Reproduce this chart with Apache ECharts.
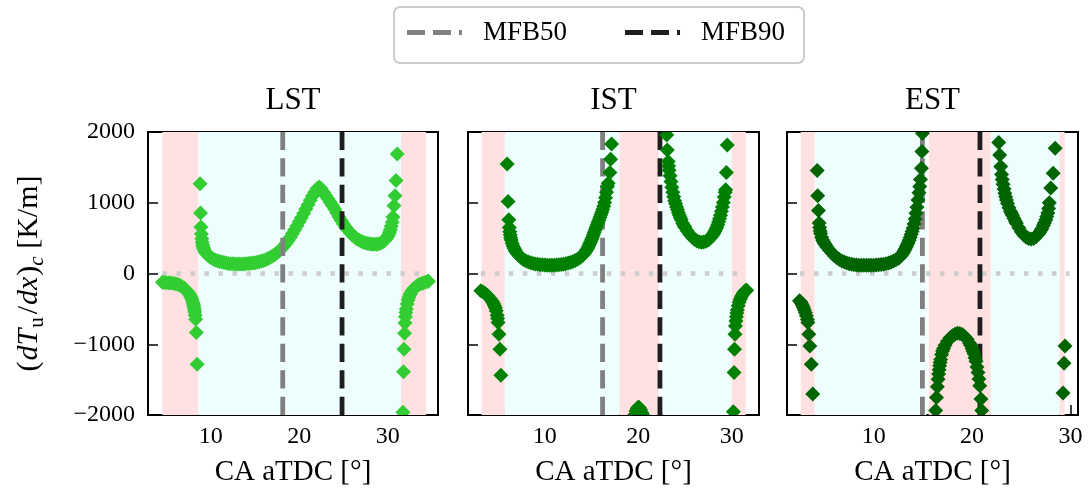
<!DOCTYPE html>
<html>
<head>
<meta charset="utf-8">
<script src="https://cdn.jsdelivr.net/npm/echarts@6/dist/echarts.min.js"></script>
<style>
  html, body { margin: 0; padding: 0; background: #ffffff; }
  #chart { width: 1090px; height: 493px; }
</style>
</head>
<body>
<div id="chart"></div>
<script>
// Unburned-gas temperature gradient at the cell, per crank angle [deg aTDC]

// ---- LST ----
const lstNegA = [[4.55,-125],[4.75,-127],[5.0,-129],[5.25,-131],[5.5,-134],[5.75,-138],[6.0,-145],[6.25,-153],
  [6.5,-165],[6.75,-182],[7.0,-205],[7.25,-235],[7.5,-272],[7.6,-292],[7.7,-314],[7.8,-340],[7.9,-370],
  [8.0,-410],[8.05,-435],[8.1,-465],[8.15,-500],[8.2,-540],[8.25,-590],[8.3,-647],[8.38,-835],[8.47,-1282]];
const lstPos = [[8.8,1268],[8.85,855],[8.9,658],[8.95,560],[9.0,490],[9.05,440],[9.1,405],[9.15,378],[9.2,356],
  [9.3,325],[9.4,302],[9.5,285],[9.6,270],[9.75,252],[9.9,237],[10.0,226],
  [10.25,207],[10.5,192],[10.75,180],[11.0,170],[11.25,161],[11.5,154],[11.75,148],[12.0,143],[12.25,139],
  [12.5,137],[12.75,135],[13.0,134],[13.25,134],[13.5,134],[13.75,135],[14.0,137],[14.25,140],[14.5,144],
  [14.75,148],[15.0,153],[15.25,159],[15.5,166],[15.75,175],[16.0,185],[16.25,197],[16.5,211],[16.75,228],
  [17.0,248],[17.25,268],[17.5,292],[17.75,319],[18.0,350],[18.25,385],[18.5,424],[18.75,467],[19.0,514],
  [19.25,565],[19.5,619],[19.75,674],[20.0,730],[20.25,788],[20.5,848],[20.75,910],[21.0,972],[21.25,1035],
  [21.5,1095],[21.75,1150],[22.0,1198],[22.25,1222],[22.5,1198],[22.75,1150],[23.0,1100],[23.25,1055],
  [23.5,1008],[23.75,960],[24.0,910],[24.25,855],[24.5,800],[24.75,748],[25.0,700],[25.25,655],[25.5,615],
  [25.75,578],[26.0,545],[26.25,516],[26.5,492],[26.75,472],[27.0,455],[27.25,442],[27.5,432],[27.75,424],
  [28.0,418],[28.25,414],[28.5,413],[28.75,415],[29.0,420],[29.25,432],[29.5,452],[29.6,463],[29.7,475],
  [29.8,490],[29.9,507],[30.0,528],[30.1,552],[30.2,582],[30.3,620],[30.4,668],[30.5,725],[30.6,800],
  [30.71,958],[30.82,1099],[30.94,1314],[31.08,1690]];
const lstNegB = [[31.72,-1962],[31.78,-1390],[31.84,-1070],[31.9,-845],[31.95,-700],[32.0,-610],[32.05,-550],
  [32.1,-500],[32.2,-430],[32.3,-375],[32.4,-335],[32.5,-300],[32.6,-275],[32.75,-245],[32.9,-222],[33.0,-208],
  [33.25,-180],[33.5,-160],[33.75,-145],[34.0,-133],[34.25,-123],[34.5,-114],[34.6,-110]];
const lstSpans = [[4.53, 8.6, 'neg'], [8.6, 31.5, 'pos'], [31.5, 34.33, 'neg']];
const lstMfb = [18.14, 24.84];
const lstZero = [4.55, 34.65];

// ---- IST ----
const istNegA = [[3.15,-245],[3.4,-262],[3.65,-285],[3.9,-315],[4.15,-355],[4.3,-380],[4.4,-400],[4.5,-425],
  [4.6,-452],[4.7,-485],[4.8,-528],[4.9,-590],[4.95,-635],[5.0,-694],[5.1,-859],[5.2,-1070],[5.3,-1437]];
const istPosA = [[5.97,1549],[6.07,1018],[6.15,760],[6.2,650],[6.25,590],[6.3,545],[6.35,505],[6.4,475],
  [6.5,428],[6.6,390],[6.7,360],[6.8,335],[6.9,312],[7.0,292],[7.1,275],[7.25,250],
  [7.5,218],[7.75,194],[8.0,176],[8.25,162],[8.5,151],[8.75,142],[9.0,135],[9.25,129],[9.5,125],
  [9.75,122],[10.0,120],[10.25,118],[10.5,117],[10.75,117],[11.0,118],[11.25,120],[11.5,123],[11.75,127],
  [12.0,132],[12.25,139],[12.5,147],[12.75,157],[13.0,169],[13.25,183],[13.5,200],[13.75,222],[14.0,250],
  [14.1,265],[14.2,280],[14.3,298],[14.4,318],[14.5,338],[14.6,362],[14.7,390],[14.8,420],[14.9,450],
  [15.0,480],[15.1,514],[15.2,548],[15.3,583],[15.4,619],[15.5,655],[15.6,690],[15.7,723],[15.8,757],
  [15.9,792],[16.0,830],[16.1,866],[16.2,905],[16.3,950],[16.4,1005],[16.5,1070],[16.6,1150],[16.7,1230],
  [16.78,1277],[16.96,1427],[17.04,1615],[17.14,1831]];
const istBump = [[19.45,-2060],[19.6,-2000],[19.75,-1945],[19.9,-1905],[20.0,-1890],[20.1,-1895],[20.25,-1925],
  [20.4,-1970],[20.55,-2010],[20.7,-2070]];
const istPosB = [[23.04,1958],[23.1,1746],[23.2,1582],[23.25,1520],[23.3,1460],[23.4,1380],[23.5,1300],
  [23.6,1220],[23.7,1150],[23.8,1085],[23.9,1030],[24.0,985],[24.1,940],[24.2,900],[24.3,860],[24.4,825],
  [24.5,790],[24.6,758],[24.75,710],[24.9,675],[25.0,650],[25.25,600],[25.5,555],[25.75,515],[26.0,485],
  [26.25,463],[26.5,448],[26.75,442],[27.0,445],[27.25,455],[27.5,472],[27.75,505],[27.9,530],[28.0,550],
  [28.1,572],[28.2,597],[28.3,625],[28.4,655],[28.5,690],[28.6,730],[28.7,775],[28.8,825],[28.9,880],
  [29.0,940],[29.1,1005],[29.2,1080],[29.3,1150],[29.35,1183],[29.43,1427],[29.52,1817]];
const istNegB = [[30.18,-1953],[30.25,-1399],[30.3,-1070],[30.35,-859],[30.4,-742],[30.45,-670],[30.5,-610],
  [30.55,-558],[30.6,-515],[30.7,-455],[30.8,-405],[30.9,-366],[31.0,-337],[31.1,-312],[31.2,-290],
  [31.3,-270],[31.4,-252],[31.5,-242],[31.6,-235]];
const istSpans = [[3.23, 5.72, 'neg'], [5.72, 18.0, 'pos'], [18.0, 22.2, 'neg'], [22.6, 30.0, 'pos'], [30.0, 31.5, 'neg']];
const istMfb = [16.18, 22.32];
const istZero = [3.15, 31.6];

// ---- EST ----
const estNegA = [[2.45,-385],[2.55,-400],[2.65,-422],[2.75,-450],[2.85,-480],[2.95,-515],[3.05,-555],
  [3.15,-598],[3.25,-650],[3.3,-694],[3.4,-859],[3.5,-1024],[3.65,-1282],[3.8,-1704]];
const estPosA = [[4.25,1455],[4.3,1099],[4.38,892],[4.45,714],[4.5,650],[4.55,600],[4.6,565],[4.7,512],
  [4.8,475],[4.9,447],[5.0,425],[5.1,404],[5.25,372],[5.5,328],[5.75,288],[6.0,252],[6.25,222],[6.5,198],
  [6.75,178],[7.0,162],[7.25,149],[7.5,139],[7.75,131],[8.0,125],[8.25,121],[8.5,118],[8.75,116],[9.0,115],
  [9.25,115],[9.5,115],[9.75,116],[10.0,117],[10.25,119],[10.5,122],[10.75,126],[11.0,132],[11.25,139],
  [11.5,148],[11.75,160],[12.0,175],[12.25,193],[12.5,215],[12.6,226],[12.7,240],[12.8,258],[12.9,277],
  [13.0,298],[13.1,322],[13.2,348],[13.3,376],[13.4,405],[13.5,435],[13.6,470],[13.7,508],[13.8,552],
  [13.9,595],[14.0,640],[14.1,700],[14.2,770],[14.3,850],[14.4,935],[14.5,1040],[14.6,1140],[14.68,1230],
  [14.75,1330],[14.85,1488],[14.9,1723],[14.95,1982]];
const estNegMid = [[16.3,-1935],[16.38,-1751],[16.47,-1600],[16.55,-1493],[16.6,-1420],[16.65,-1360],
  [16.7,-1305],[16.75,-1258],[16.8,-1215],[16.9,-1145],[17.0,-1095],[17.1,-1060],[17.25,-1015],[17.5,-958],
  [17.75,-913],[18.0,-880],[18.25,-858],[18.5,-846],[18.75,-848],[19.0,-862],[19.25,-890],[19.5,-930],
  [19.75,-985],[19.85,-1015],[20.0,-1060],[20.1,-1100],[20.2,-1135],[20.3,-1190],[20.4,-1240],[20.5,-1320],
  [20.6,-1399],[20.7,-1490],[20.78,-1587],[20.9,-1775],[20.98,-1935]];
const estPosB = [[22.71,1850],[22.81,1676],[22.91,1511],[23.0,1400],[23.07,1330],[23.15,1260],[23.25,1195],
  [23.33,1136],[23.42,1085],[23.5,1040],[23.6,990],[23.75,930],[23.9,880],[24.0,850],[24.1,822],[24.25,780],
  [24.4,738],[24.5,710],[24.75,645],[25.0,590],[25.25,545],[25.5,512],[25.75,495],[26.0,488],[26.25,495],
  [26.5,518],[26.75,558],[26.85,578],[27.0,610],[27.1,635],[27.25,680],[27.35,715],[27.5,760],[27.6,805],
  [27.7,855],[27.78,920],[27.85,1000],[28.0,1207],[28.25,1418],[28.45,1770]];
const estNegB = [[29.25,-1690],[29.35,-1268],[29.45,-1024]];
const estSpans = [[2.57, 4.0, 'neg'], [4.0, 15.36, 'pos'], [15.6, 21.9, 'neg'], [21.9, 28.9, 'pos'], [28.9, 29.42, 'neg']];
const estMfb = [14.95, 20.8];
const estZero = [2.5, 29.9];

const yTicks = [-2000, -1000, 0, 1000, 2000];
const xTicks = [10, 20, 30];

// ---- styling / layout ----
const FONT = "'Liberation Serif', 'Times New Roman', serif";
const SPAN_COLORS = { neg: '#ffe1e1', pos: '#eefefe' };
const MFB_COLORS = ['#808080', '#1e1e1e'];
const MARKER = 15;
// dashed legend handle: two dashes and the start of a third
const DASH_ICON = 'path://M0,0H18V5H0Z M26,0H44V5H26Z M52,0H55V5H52Z';

const panels = [
  { title: 'LST', color: '#32cd32', left: 148, width: 290, xMin: 2.92, xMax: 35.68,
    points: [lstNegA, lstPos, lstNegB], spans: lstSpans, mfb: lstMfb, zero: lstZero, linesOnTop: true },
  { title: 'IST', color: '#008000', left: 468, width: 291, xMin: 1.78, xMax: 32.92,
    points: [istNegA, istPosA, istBump, istPosB, istNegB], spans: istSpans, mfb: istMfb, zero: istZero, linesOnTop: false },
  { title: 'EST', color: '#006400', left: 787, width: 291, xMin: 1.18, xMax: 30.77,
    points: [estNegA, estPosA, estNegMid, estPosB, estNegB], spans: estSpans, mfb: estMfb, zero: estZero, linesOnTop: false }
];
const GRID_TOP = 132, GRID_H = 283;

const fmtY = v => (v < 0 ? '\u2212' + Math.abs(v) : String(v));

const grids = [], xAxes = [], yAxes = [], titles = [], series = [];

panels.forEach((p, i) => {
  grids.push({ left: p.left, top: GRID_TOP, width: p.width, height: GRID_H,
    show: true, borderColor: '#000', borderWidth: 2, backgroundColor: 'transparent' });

  titles.push({ text: p.title, left: p.left + p.width / 2, top: 85, textAlign: 'center', padding: 0,
    textStyle: { fontFamily: FONT, fontSize: 31, fontWeight: 'normal', color: '#000' } });

  xAxes.push({
    gridIndex: i, type: 'value', min: p.xMin, max: p.xMax,
    name: 'CA aTDC [°]', nameLocation: 'middle', nameGap: 43,
    nameTextStyle: { fontFamily: FONT, fontSize: 29, color: '#000' },
    axisLine: { show: true, onZero: false, lineStyle: { color: '#000', width: 2 } },
    axisTick: { show: true, inside: true, length: 10, customValues: xTicks, lineStyle: { color: '#000', width: 1.5 } },
    axisLabel: { show: true, customValues: xTicks, fontFamily: FONT, fontSize: 24, color: '#000', margin: 10 },
    splitLine: { show: false }
  });

  const yAxis = {
    gridIndex: i, type: 'value', min: -2000, max: 2000, interval: 1000,
    axisLine: { show: true, lineStyle: { color: '#000', width: 2 } },
    axisTick: { show: true, inside: true, length: 10, lineStyle: { color: '#000', width: 1.5 } },
    axisLabel: { show: i === 0, formatter: fmtY, fontFamily: FONT, fontSize: 24, color: '#000', margin: 13 },
    splitLine: { show: false }
  };
  if (i === 0) {
    yAxis.name = '{n|(}{i|dT}{s|u}{n|/}{i|dx}{n|)}{c|c}{n| [K/m]}';
    yAxis.nameLocation = 'middle';
    yAxis.nameRotate = 90;
    yAxis.nameGap = 100;
    yAxis.nameTextStyle = {
      color: '#000',
      rich: {
        n: { fontFamily: FONT, fontSize: 30, lineHeight: 38, color: '#000' },
        i: { fontFamily: FONT, fontSize: 30, lineHeight: 38, fontStyle: 'italic', color: '#000', padding: [0, 1, 0, 1] },
        s: { fontFamily: FONT, fontSize: 21, lineHeight: 18, verticalAlign: 'bottom', color: '#000', padding: [0, 3, 0, 0] },
        c: { fontFamily: FONT, fontSize: 21, lineHeight: 18, verticalAlign: 'bottom', fontStyle: 'italic', color: '#000' }
      }
    };
  }
  yAxes.push(yAxis);

  // shaded crank-angle regions
  const spans = p.spans;
  series.push({
    type: 'custom', xAxisIndex: i, yAxisIndex: i, z: 1, silent: true, clip: true,
    data: spans.map(s => [s[0], s[1]]),
    renderItem: (params, api) => {
      const a = api.coord([api.value(0), 2000]);
      const b = api.coord([api.value(1), -2000]);
      return { type: 'rect', shape: { x: a[0], y: a[1], width: b[0] - a[0], height: b[1] - a[1] },
        style: { fill: SPAN_COLORS[spans[params.dataIndex][2]] } };
    }
  });

  // zero reference
  series.push({
    type: 'line', xAxisIndex: i, yAxisIndex: i, z: 2, silent: true, symbol: 'none',
    data: [[p.zero[0], 0], [p.zero[1], 0]],
    lineStyle: { color: '#cccccc', width: 4.5, type: [4.5, 9.5], cap: 'butt' }
  });

  // MFB50 / MFB90 markers
  ['MFB50', 'MFB90'].forEach((nm, k) => {
    series.push({
      name: nm, type: 'line', xAxisIndex: i, yAxisIndex: i, z: p.linesOnTop ? 5 : 3, silent: true,
      symbol: 'none', color: MFB_COLORS[k],
      itemStyle: { color: MFB_COLORS[k] },
      data: [[p.mfb[k], -2000], [p.mfb[k], 2000]],
      lineStyle: { color: MFB_COLORS[k], width: 4.8, type: [18.3, 8.2], cap: 'butt' }
    });
  });

  // gradient samples (diamond markers)
  series.push({
    type: 'custom', xAxisIndex: i, yAxisIndex: i, z: 4, silent: true, clip: true,
    itemStyle: { color: p.color },
    data: [].concat(...p.points),
    renderItem: (params, api) => {
      const c = api.coord([api.value(0), api.value(1)]);
      const h = MARKER / 2;
      return { type: 'polygon',
        shape: { points: [[c[0], c[1] - h], [c[0] + h, c[1]], [c[0], c[1] + h], [c[0] - h, c[1]]] },
        style: { fill: p.color } };
    }
  });
});

const chart = echarts.init(document.getElementById('chart'), null, { renderer: 'canvas' });
chart.setOption({
  animation: false,
  backgroundColor: '#ffffff',
  title: titles,
  graphic: [{
    type: 'rect', left: 393, top: 6, z: 0,
    shape: { width: 410, height: 56, r: 6 },
    style: { fill: '#ffffff', stroke: '#cccccc', lineWidth: 2 }
  }],
  legend: {
    data: [{ name: 'MFB50', icon: DASH_ICON }, { name: 'MFB90', icon: DASH_ICON }],
    left: 407, top: 19, padding: 0,
    itemWidth: 55, itemHeight: 5, itemGap: 58,
    itemStyle: { borderWidth: 0 },
    textStyle: { fontFamily: FONT, fontSize: 27, color: '#000', padding: [0, 0, 14, 16] }
  },
  grid: grids,
  xAxis: xAxes,
  yAxis: yAxes,
  series: series
});
</script>
</body>
</html>
